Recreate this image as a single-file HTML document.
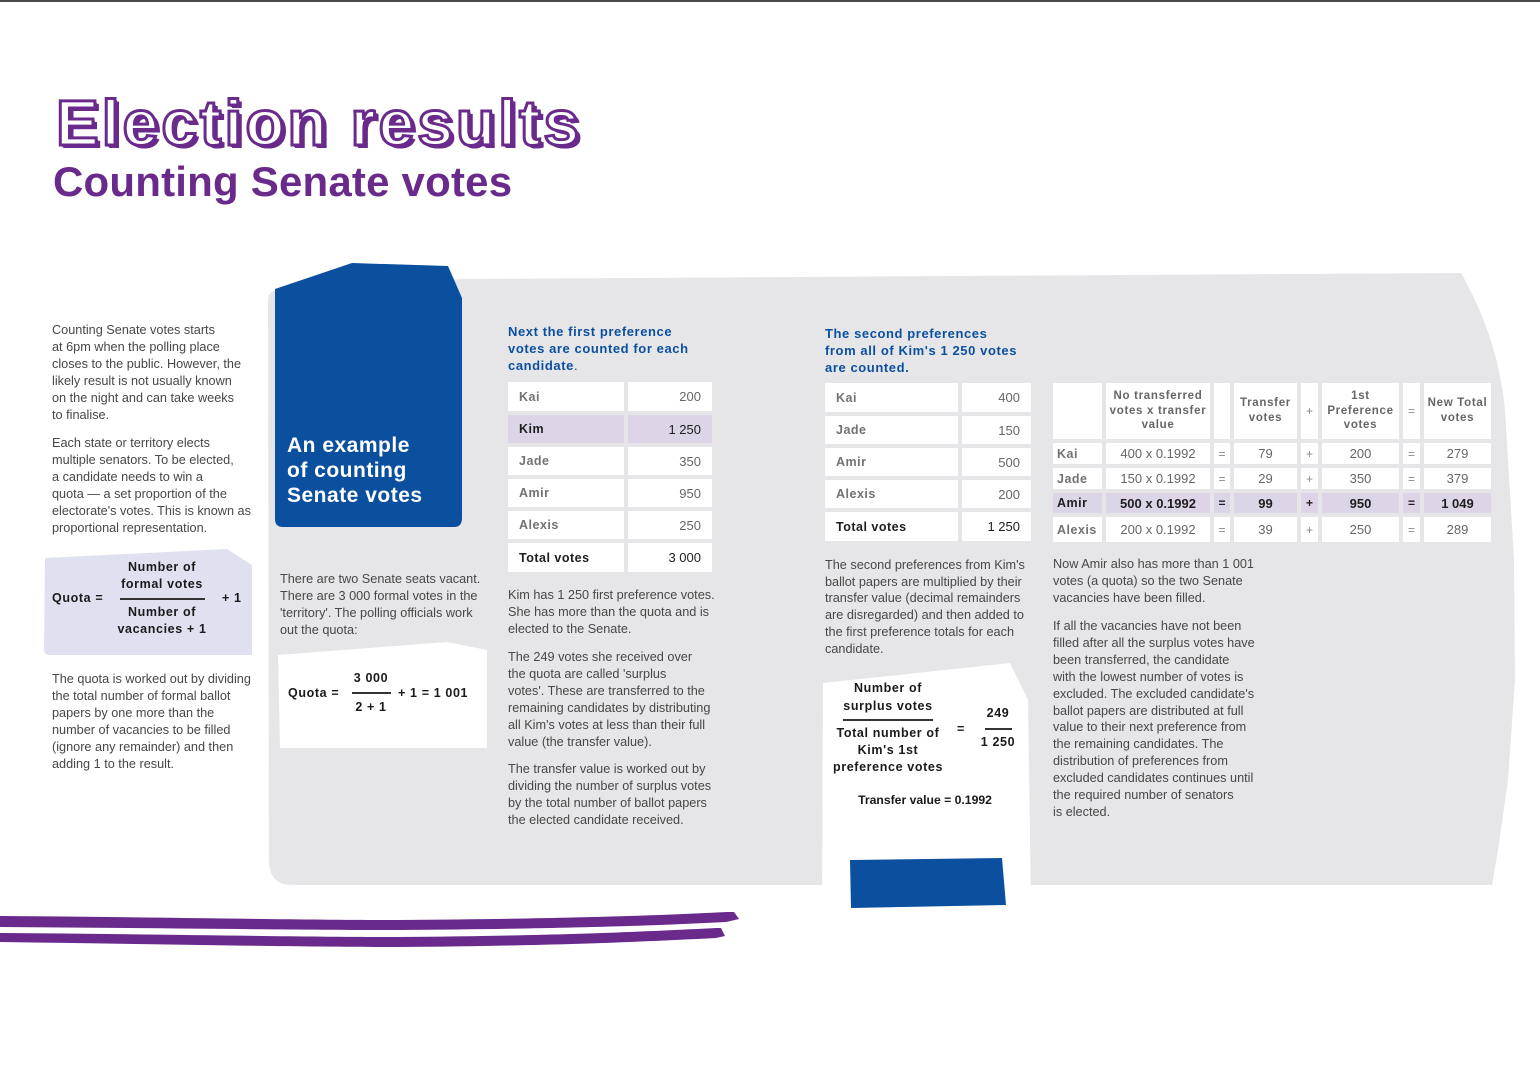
<!DOCTYPE html>
<html>
<head>
<meta charset="utf-8">
<style>
  html,body{margin:0;padding:0;}
  body{width:1540px;height:1092px;position:relative;background:#fff;overflow:hidden;font-family:"Liberation Sans",Arial,sans-serif;}
  .abs{position:absolute;}
  .p{position:absolute;font-size:12.7px;line-height:16.9px;color:#474747;white-space:nowrap;}
  .h{position:absolute;font-size:13px;line-height:17px;color:#0b4f9f;font-weight:bold;letter-spacing:0.045em;white-space:nowrap;}
  .c{position:absolute;background:#fff;display:flex;align-items:center;box-sizing:border-box;white-space:nowrap;}
  .n{padding-left:11px;font-weight:bold;color:#727272;letter-spacing:0.04em;font-size:12.5px;}
  .v{justify-content:flex-end;padding-right:11px;color:#666;font-size:13px;}
  .k{background:#ddd5e7;}
  .m{justify-content:center;text-align:center;color:#666;font-size:13px;}
  .hd{font-weight:bold;font-size:11.5px;line-height:14.7px;letter-spacing:0.06em;color:#666;}
  .t3n{padding-left:4px;font-weight:bold;color:#727272;letter-spacing:0.04em;font-size:12.5px;}
  .op{color:#8a8a8a;font-size:12px;}
  .dk{color:#1e1e1e !important;}
  .bd{font-weight:bold;}
  .f{position:absolute;font-weight:bold;font-size:12.5px;line-height:15px;color:#1a1a1a;letter-spacing:0.05em;white-space:nowrap;}
  .fc{text-align:center;}
  .ln{position:absolute;height:1.5px;background:#333;}
</style>
</head>
<body>

<svg class="abs" style="left:0;top:0" width="1540" height="1092" viewBox="0 0 1540 1092">
  <rect x="0" y="0" width="1540" height="2" fill="#4a4a4a"/>
  <path d="M268,300 Q268,292 276,290 L462,279 L1461,273 C1485,315 1500,360 1505,410 L1514,560 L1515,680 L1508,780 L1498,850 L1492,885 L292,885 Q270,885 269,862 Z" fill="#e6e6e8"/>
  <path d="M275,289 L352,263 L448,266 L462,298 L462,518 Q462,527 454,527 L283,527 Q275,527 275,519 Z" fill="#0b4f9f"/>
  <path d="M45,558 L227,549 L252,565 L252,655 L50,655 Q44,655 44,649 Z" fill="#dfe1f1"/>
  <path d="M278,655 L447,642 L487,650 L487,748 L280,748 Z" fill="#ffffff"/>
  <path d="M823,683 L1010,663 L1028,700 L1031,905 L822,905 Z" fill="#ffffff"/>
  <path d="M850,860 L1002,858 L1006,905 L851,908 Z" fill="#0b4f9f"/>
  <path d="M0,916 C150,917 300,920 398,920 C550,919 650,916 727,912 L734,912 L739,919 L726,922 C650,926 550,929 398,930 C300,930 150,928 0,927 Z" fill="#6a2a8c"/>
  <path d="M0,933 C150,934 300,937 398,937 C540,936 640,932 716,928 L721,928 L725,936 L716,938 C640,942 540,946 398,947 C300,947 150,944 0,942 Z" fill="#6a2a8c"/>
</svg>

<div class="abs" style="left:56px;top:91px;font-size:64px;line-height:64px;font-weight:bold;letter-spacing:3.1px;color:#fff;-webkit-text-stroke:3px #6a2a8c;text-shadow:1px 1px 0 #6a2a8c,2px 2px 0 #6a2a8c,3px 3px 0 #6a2a8c,4px 3px 0 #6a2a8c;white-space:nowrap;">Election results</div>
<div class="abs" style="left:53px;top:161px;font-size:42px;line-height:42px;font-weight:bold;color:#6a2a8c;letter-spacing:0.2px;white-space:nowrap;">Counting Senate votes</div>

<div class="p" style="left:52px;top:322px;">Counting Senate votes starts<br>at 6pm when the polling place<br>closes to the public. However, the<br>likely result is not usually known<br>on the night and can take weeks<br>to finalise.</div>
<div class="p" style="left:52px;top:435px;">Each state or territory elects<br>multiple senators. To be elected,<br>a candidate needs to win a<br>quota — a set proportion of the<br>electorate's votes. This is known as<br>proportional representation.</div>

<div class="f" style="left:52px;top:591px;">Quota =</div>
<div class="f fc" style="left:102px;top:559px;width:120px;line-height:16.5px;">Number of<br>formal votes</div>
<div class="ln" style="left:120px;top:598px;width:85px;"></div>
<div class="f fc" style="left:102px;top:604px;width:120px;line-height:16.5px;">Number of<br>vacancies + 1</div>
<div class="f" style="left:222px;top:591px;">+ 1</div>

<div class="p" style="left:52px;top:671px;">The quota is worked out by dividing<br>the total number of formal ballot<br>papers by one more than the<br>number of vacancies to be filled<br>(ignore any remainder) and then<br>adding 1 to the result.</div>

<div class="abs" style="left:287px;top:433px;font-size:21px;line-height:25px;font-weight:bold;color:#fff;letter-spacing:0.5px;white-space:nowrap;">An example<br>of counting<br>Senate votes</div>

<div class="p" style="left:280px;top:571px;">There are two Senate seats vacant.<br>There are 3 000 formal votes in the<br>'territory'. The polling officials work<br>out the quota:</div>
<div class="f" style="left:288px;top:686px;">Quota =</div>
<div class="f fc" style="left:331px;top:671px;width:80px;">3 000</div>
<div class="ln" style="left:352px;top:692px;width:39px;"></div>
<div class="f fc" style="left:331px;top:700px;width:80px;">2 + 1</div>
<div class="f" style="left:398px;top:686px;">+ 1 = 1 001</div>

<div class="h" style="left:508px;top:323px;">Next the first preference<br>votes are counted for each<br>candidate<span style="font-weight:normal">.</span></div>

<div class="c n" style="left:508px;top:382px;width:116px;height:29px;">Kai</div>
<div class="c v" style="left:628px;top:382px;width:84px;height:29px;">200</div>
<div class="c n k dk" style="left:508px;top:415px;width:116px;height:28px;">Kim</div>
<div class="c v k dk" style="left:628px;top:415px;width:84px;height:28px;">1 250</div>
<div class="c n" style="left:508px;top:447px;width:116px;height:28px;">Jade</div>
<div class="c v" style="left:628px;top:447px;width:84px;height:28px;">350</div>
<div class="c n" style="left:508px;top:479px;width:116px;height:28px;">Amir</div>
<div class="c v" style="left:628px;top:479px;width:84px;height:28px;">950</div>
<div class="c n" style="left:508px;top:511px;width:116px;height:28px;">Alexis</div>
<div class="c v" style="left:628px;top:511px;width:84px;height:28px;">250</div>
<div class="c n dk" style="left:508px;top:543px;width:116px;height:29px;">Total votes</div>
<div class="c v dk" style="left:628px;top:543px;width:84px;height:29px;">3 000</div>

<div class="p" style="left:508px;top:587px;">Kim has 1 250 first preference votes.<br>She has more than the quota and is<br>elected to the Senate.</div>
<div class="p" style="left:508px;top:649px;">The 249 votes she received over<br>the quota are called 'surplus<br>votes'. These are transferred to the<br>remaining candidates by distributing<br>all Kim's votes at less than their full<br>value (the transfer value).</div>
<div class="p" style="left:508px;top:761px;">The transfer value is worked out by<br>dividing the number of surplus votes<br>by the total number of ballot papers<br>the elected candidate received.</div>

<div class="h" style="left:825px;top:325px;">The second preferences<br>from all of Kim's 1 250 votes<br>are counted.</div>

<div class="c n" style="left:825px;top:383px;width:133px;height:29px;">Kai</div>
<div class="c v" style="left:962px;top:383px;width:69px;height:29px;">400</div>
<div class="c n" style="left:825px;top:416px;width:133px;height:28px;">Jade</div>
<div class="c v" style="left:962px;top:416px;width:69px;height:28px;">150</div>
<div class="c n" style="left:825px;top:448px;width:133px;height:28px;">Amir</div>
<div class="c v" style="left:962px;top:448px;width:69px;height:28px;">500</div>
<div class="c n" style="left:825px;top:480px;width:133px;height:28px;">Alexis</div>
<div class="c v" style="left:962px;top:480px;width:69px;height:28px;">200</div>
<div class="c n dk" style="left:825px;top:512px;width:133px;height:29px;">Total votes</div>
<div class="c v dk" style="left:962px;top:512px;width:69px;height:29px;">1 250</div>

<div class="p" style="left:825px;top:557px;line-height:16.7px;">The second preferences from Kim's<br>ballot papers are multiplied by their<br>transfer value (decimal remainders<br>are disregarded) and then added to<br>the first preference totals for each<br>candidate.</div>

<div class="f fc" style="left:828px;top:680px;width:120px;line-height:17.5px;">Number of<br>surplus votes</div>
<div class="ln" style="left:843px;top:719px;width:90px;"></div>
<div class="f fc" style="left:818px;top:725px;width:140px;line-height:17px;">Total number of<br>Kim's 1st<br>preference votes</div>
<div class="f" style="left:957px;top:722px;">=</div>
<div class="f fc" style="left:968px;top:706px;width:60px;">249</div>
<div class="ln" style="left:985px;top:728px;width:27px;"></div>
<div class="f fc" style="left:968px;top:735px;width:60px;">1 250</div>
<div class="f fc" style="left:845px;top:793px;width:160px;font-size:12.2px;letter-spacing:0;">Transfer value = 0.1992</div>

<div class="c" style="left:1053px;top:383px;width:49px;height:56px;"></div>
<div class="c m hd" style="left:1106px;top:383px;width:104px;height:56px;">No transferred<br>votes x transfer<br>value</div>
<div class="c" style="left:1214px;top:383px;width:16px;height:56px;"></div>
<div class="c m hd" style="left:1234px;top:383px;width:63px;height:56px;">Transfer<br>votes</div>
<div class="c m op" style="left:1301px;top:383px;width:17px;height:56px;">+</div>
<div class="c m hd" style="left:1322px;top:383px;width:77px;height:56px;">1st<br>Preference<br>votes</div>
<div class="c m op" style="left:1403px;top:383px;width:17px;height:56px;">=</div>
<div class="c m hd" style="left:1424px;top:383px;width:67px;height:56px;">New Total<br>votes</div>

<div class="c t3n" style="left:1053px;top:443px;width:49px;height:21px;">Kai</div>
<div class="c m" style="left:1106px;top:443px;width:104px;height:21px;">400 x 0.1992</div>
<div class="c m op" style="left:1214px;top:443px;width:16px;height:21px;">=</div>
<div class="c m" style="left:1234px;top:443px;width:63px;height:21px;">79</div>
<div class="c m op" style="left:1301px;top:443px;width:17px;height:21px;">+</div>
<div class="c m" style="left:1322px;top:443px;width:77px;height:21px;">200</div>
<div class="c m op" style="left:1403px;top:443px;width:17px;height:21px;">=</div>
<div class="c m" style="left:1424px;top:443px;width:67px;height:21px;">279</div>

<div class="c t3n" style="left:1053px;top:468px;width:49px;height:21px;">Jade</div>
<div class="c m" style="left:1106px;top:468px;width:104px;height:21px;">150 x 0.1992</div>
<div class="c m op" style="left:1214px;top:468px;width:16px;height:21px;">=</div>
<div class="c m" style="left:1234px;top:468px;width:63px;height:21px;">29</div>
<div class="c m op" style="left:1301px;top:468px;width:17px;height:21px;">+</div>
<div class="c m" style="left:1322px;top:468px;width:77px;height:21px;">350</div>
<div class="c m op" style="left:1403px;top:468px;width:17px;height:21px;">=</div>
<div class="c m" style="left:1424px;top:468px;width:67px;height:21px;">379</div>

<div class="c t3n k dk" style="left:1053px;top:493px;width:49px;height:20px;">Amir</div>
<div class="c m k dk bd" style="left:1106px;top:493px;width:104px;height:20px;font-weight:600;">500 x 0.1992</div>
<div class="c m k dk bd" style="left:1214px;top:493px;width:16px;height:20px;font-size:12px;">=</div>
<div class="c m k dk" style="left:1234px;top:493px;width:63px;height:20px;font-weight:600;">99</div>
<div class="c m k dk bd" style="left:1301px;top:493px;width:17px;height:20px;font-size:12px;">+</div>
<div class="c m k dk" style="left:1322px;top:493px;width:77px;height:20px;font-weight:600;">950</div>
<div class="c m k dk bd" style="left:1403px;top:493px;width:17px;height:20px;font-size:12px;">=</div>
<div class="c m k dk" style="left:1424px;top:493px;width:67px;height:20px;font-weight:600;">1 049</div>

<div class="c t3n" style="left:1053px;top:517px;width:49px;height:25px;">Alexis</div>
<div class="c m" style="left:1106px;top:517px;width:104px;height:25px;">200 x 0.1992</div>
<div class="c m op" style="left:1214px;top:517px;width:16px;height:25px;">=</div>
<div class="c m" style="left:1234px;top:517px;width:63px;height:25px;">39</div>
<div class="c m op" style="left:1301px;top:517px;width:17px;height:25px;">+</div>
<div class="c m" style="left:1322px;top:517px;width:77px;height:25px;">250</div>
<div class="c m op" style="left:1403px;top:517px;width:17px;height:25px;">=</div>
<div class="c m" style="left:1424px;top:517px;width:67px;height:25px;">289</div>

<div class="p" style="left:1053px;top:556px;">Now Amir also has more than 1 001<br>votes (a quota) so the two Senate<br>vacancies have been filled.</div>
<div class="p" style="left:1053px;top:618px;">If all the vacancies have not been<br>filled after all the surplus votes have<br>been transferred, the candidate<br>with the lowest number of votes is<br>excluded. The excluded candidate's<br>ballot papers are distributed at full<br>value to their next preference from<br>the remaining candidates. The<br>distribution of preferences from<br>excluded candidates continues until<br>the required number of senators<br>is elected.</div>

</body>
</html>
